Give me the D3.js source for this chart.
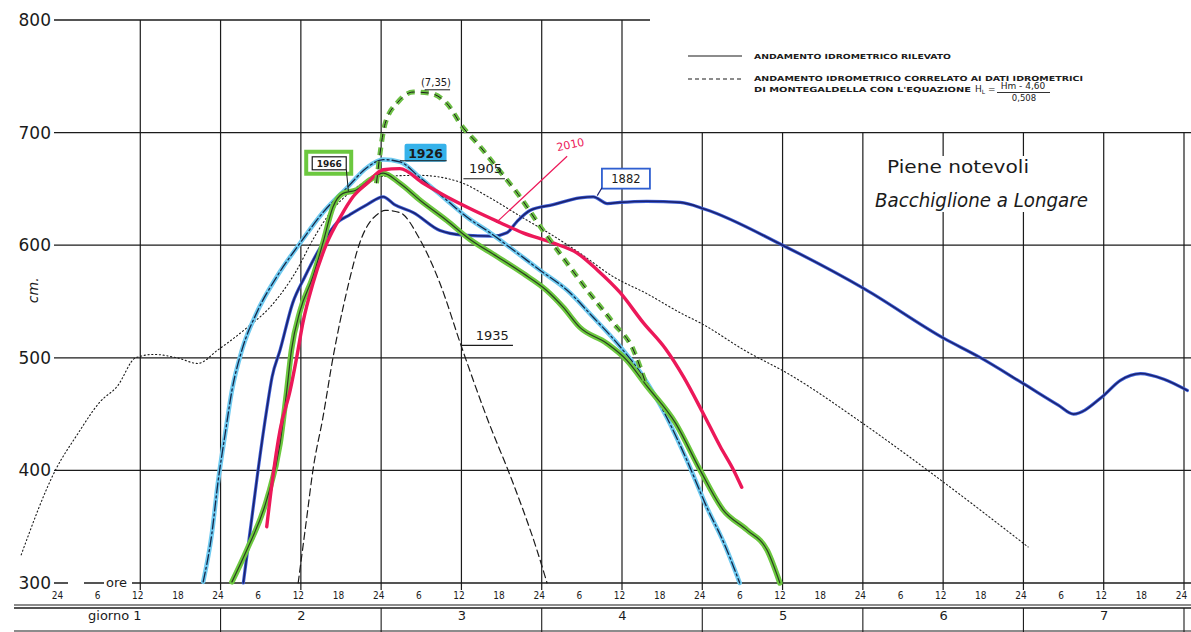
<!DOCTYPE html>
<html>
<head>
<meta charset="utf-8">
<script src="https://cdn.jsdelivr.net/npm/d3@7"></script>
<style>
body { margin: 0; background: #fff; }
svg { display: block; }
</style>
</head>
<body>
<div id="chart"></div>
<script>
// livelli in cm, tempo in ore dall'inizio del giorno 1
const yTicks = [800, 700, 600, 500, 400, 300];
const hourNames = ['24', '6', '12', '18'];
const dayNames = ['giorno 1', '2', '3', '4', '5', '6', '7'];

const s1905 = [[-5.8,325],[-0.7,400],[2.6,432],[6,461],[8.6,475],[11.3,500],[14,503],[17.5,500],[20.6,495],[23.6,507],[28,527],[31.4,545],[35.4,578],[37.8,605],[40.4,629],[43.8,649],[47.8,661],[53.8,662],[59.8,656],[64,643],[69,625],[73,611],[77.7,593],[82.7,572],[87.7,557],[92.7,540],[96,530],[102.5,506],[108.8,486],[119.7,443],[129.7,400],[144.7,332]];
const s1935 = [[35.6,300],[36.9,359],[37.8,400],[39.3,447],[40.8,500],[42.9,560],[44.8,602],[47.8,629],[48.6,631],[50.8,629],[53.8,605],[56.8,566],[60,510],[63.8,447],[67.7,389],[71.3,329],[72.8,300]];
const s735 = [[47.3,655],[48.6,708],[50.5,727],[52.8,736],[55.3,735],[57.8,726],[60.3,704],[62.3,691],[65.3,669],[68.5,645],[72.2,613],[75.8,584],[78.8,560],[82.7,531],[85.7,507],[87.5,478]];
const s1882 = [[27.4,300],[28.7,359],[29.6,400],[30.9,454],[31.7,483],[32.9,507],[34.8,549],[36.6,572],[38.9,598],[41.4,620],[43.3,627],[45.9,636],[48.3,643],[50,636],[52.8,629],[56.8,613],[60.2,609],[64.7,608],[66.8,611],[68.3,621],[70.3,631],[73.7,636],[77.7,642],[79.7,643],[81.8,637],[83.7,638],[87.7,639],[92.7,638],[96.4,632],[108,600],[120.3,561],[132.2,517],[137.3,501],[144,477],[149.2,458],[151.5,450],[155.7,465],[158.5,480],[161.5,486],[165,481],[168.5,471]];
const s1926 = [[21.4,301],[22.7,344],[23.6,389],[24.7,433],[25.7,471],[27.2,507],[29.4,540],[32.4,572],[35.9,602],[39.3,629],[42.9,651],[45.9,669],[48.3,676],[50.8,674],[53.8,660],[57.8,640],[60.8,625],[64.3,611],[67.7,596],[71.7,578],[75.8,560],[79.7,536],[83.7,510],[87.2,483],[90.7,447],[93.7,409],[96.7,367],[99.2,336],[101.6,300]];
const s1966 = [[25.7,301],[27.9,329],[30.9,374],[32.9,424],[33.9,471],[34.6,507],[35.9,542],[37.8,572],[39.3,602],[40.8,634],[42.3,646],[44.3,649],[46.3,658],[48.3,664],[50.8,655],[53.8,640],[57.8,622],[61.3,605],[65.3,590],[69.2,575],[72.7,560],[75.2,545],[77.7,527],[81.7,513],[84.7,498],[87.7,475],[92,442],[95.7,400],[99.1,365],[102.7,347],[105.7,329],[107.6,300]];
const s2010 = [[30.9,350],[31.7,389],[32.9,436],[34.4,471],[35.4,501],[36.3,531],[37.8,566],[39.9,602],[41.9,625],[43.8,643],[45.9,655],[48.3,667],[50.8,668],[54.3,655],[57.8,643],[61.8,631],[65.8,620],[69.2,611],[73.7,602],[77.3,593],[80.3,578],[83.7,558],[87.2,531],[90.5,508],[93.2,483],[96.1,451],[98.7,421],[100.7,400],[101.9,385]];

const width = 1191, height = 632;
const ink = '#1b1b1b';

const svg = d3.select('#chart').append('svg')
	.attr('width', width)
	.attr('height', height)
	.style('font-family', 'DejaVu Sans, sans-serif');

const x = d3.scaleLinear().domain([0, 168]).range([60, 1184]);
const y = d3.scaleLinear().domain([300, 800]).range([583, 20]);

// griglia
const gridG = svg.append('g').attr('stroke', ink).attr('stroke-width', 1.3);
gridG.selectAll('line.h')
	.data(yTicks)
	.enter().append('line')
	.attr('x1', 54)
	.attr('x2', d => d === 800 ? 650 : width)
	.attr('y1', d => y(d))
	.attr('y2', d => y(d));

const vTimes = d3.range(12, 169, 12);
gridG.selectAll('line.v')
	.data(vTimes)
	.enter().append('line')
	.attr('x1', d => x(d))
	.attr('x2', d => x(d))
	.attr('y1', d => d <= 84 ? y(800) : y(700))
	.attr('y2', y(300) + 7)
	.attr('stroke-width', 1.2);

// asse y
svg.append('g')
	.attr('transform', 'translate(54,0)')
	.call(d3.axisLeft(y).tickValues(yTicks).tickSize(0).tickPadding(3))
	.call(g => g.select('.domain').remove())
	.selectAll('text')
	.attr('font-size', 17)
	.attr('font-family', 'DejaVu Sans, sans-serif')
	.attr('fill', ink);

svg.append('text')
	.attr('transform', `translate(38,${ y(560) }) rotate(-90)`)
	.attr('text-anchor', 'middle')
	.attr('font-size', 14)
	.attr('font-style', 'italic')
	.attr('fill', ink)
	.text('cm.');

// "ore" sulla linea dei 300
svg.append('rect').attr('x', 68).attr('y', y(300) - 3).attr('width', 16).attr('height', 6).attr('fill', '#fff');
svg.append('rect').attr('x', 104).attr('y', y(300) - 8).attr('width', 28).attr('height', 12).attr('fill', '#fff');
svg.append('text')
	.attr('x', 106).attr('y', y(300) + 4)
	.attr('font-size', 13)
	.attr('fill', ink)
	.text('ore');

// assi dei tempi
const hourTicks = d3.range(0, 169, 6);
svg.append('g')
	.attr('transform', 'translate(-3,590)')
	.call(d3.axisBottom(x).tickValues(hourTicks).tickSize(0).tickPadding(2)
		.tickFormat(d => hourNames[(d / 6) % 4]))
	.call(g => g.select('.domain').remove())
	.selectAll('text')
	.attr('font-size', 10)
	.attr('font-family', 'DejaVu Sans Condensed, sans-serif')
	.attr('fill', ink);

const rowG = svg.append('g').attr('stroke', ink);
[605, 608, 631].forEach(v => {
	rowG.append('line').attr('x1', 14).attr('x2', width).attr('y1', v).attr('y2', v)
		.attr('stroke-width', v === 608 ? 1.6 : 1.1);
});
rowG.selectAll('line.d')
	.data(d3.range(24, 169, 24))
	.enter().append('line')
	.attr('x1', d => x(d)).attr('x2', d => x(d))
	.attr('y1', 608).attr('y2', 632)
	.attr('stroke-width', 1.1);

svg.append('g')
	.attr('transform', 'translate(0,611)')
	.call(d3.axisBottom(x).tickValues(d3.range(12, 169, 24)).tickSize(0).tickPadding(0)
		.tickFormat((d, i) => dayNames[i]))
	.call(g => g.select('.domain').remove())
	.selectAll('text')
	.attr('font-size', 13)
	.attr('font-family', 'DejaVu Sans, sans-serif')
	.attr('fill', ink)
	.attr('dx', (d, i) => i === 0 ? -26 : 0);

// curve
const line = d3.line()
	.x(d => x(d[0]))
	.y(d => y(d[1]))
	.curve(d3.curveMonotoneX);

const curves = svg.append('g').attr('fill', 'none').attr('stroke-linecap', 'round').attr('stroke-linejoin', 'round');

curves.append('path').datum(s1905).attr('d', line)
	.attr('stroke', ink).attr('stroke-width', 1.1).attr('stroke-dasharray', '1.2,2.6');
curves.append('path').datum(s1935).attr('d', line)
	.attr('stroke', ink).attr('stroke-width', 1.2).attr('stroke-dasharray', '7,4');

curves.append('path').datum(s1882).attr('d', line)
	.attr('stroke', '#3d5fd6').attr('stroke-width', 3.2);
curves.append('path').datum(s1882).attr('d', line)
	.attr('stroke', '#1c2370').attr('stroke-width', 1.6);

curves.append('path').datum(s1926).attr('d', line)
	.attr('stroke', '#6fcaf0').attr('stroke-width', 4.5);
curves.append('path').datum(s1926).attr('d', line)
	.attr('stroke', '#15284a').attr('stroke-width', 1.3).attr('stroke-dasharray', '10,3,2,3');

curves.append('path').datum(s1966).attr('d', line)
	.attr('stroke', '#6cc83f').attr('stroke-width', 5.5);
curves.append('path').datum(s1966).attr('d', line)
	.attr('stroke', '#2a4020').attr('stroke-width', 1.2);

curves.append('path').datum(s2010).attr('d', line)
	.attr('stroke', '#ec1859').attr('stroke-width', 3.4);

curves.append('path').datum(s735).attr('d', line)
	.attr('stroke', '#6cbf45').attr('stroke-width', 5).attr('stroke-linecap', 'butt').attr('stroke-dasharray', '8,6');
curves.append('path').datum(s735).attr('d', line)
	.attr('stroke', ink).attr('stroke-width', 1).attr('stroke-linecap', 'butt').attr('stroke-dasharray', '8,6');

// etichette delle piene
const lab = svg.append('g').attr('fill', ink);

// 1966
lab.append('rect').attr('x', x(36.8)).attr('y', y(683)).attr('width', 45).attr('height', 22)
	.attr('fill', 'none').attr('stroke', '#6cc83f').attr('stroke-width', 4);
lab.append('rect').attr('x', x(37.7)).attr('y', y(678.5)).attr('width', 34).attr('height', 13)
	.attr('fill', '#fff').attr('stroke', ink).attr('stroke-width', 1.2);
lab.append('text').attr('x', x(37.7) + 17).attr('y', y(678.5) + 10)
	.attr('text-anchor', 'middle').attr('font-size', 9).attr('font-weight', 'bold').text('1966');
lab.append('line').attr('x1', x(42.8)).attr('y1', y(667)).attr('x2', x(43.1)).attr('y2', y(648))
	.attr('stroke', ink).attr('stroke-width', 1);

// 1926
lab.append('rect').attr('x', x(51.5)).attr('y', y(690)).attr('width', 42).attr('height', 18)
	.attr('fill', '#36b2ea').attr('rx', 2);
lab.append('text').attr('x', x(51.5) + 21).attr('y', y(690) + 14)
	.attr('text-anchor', 'middle').attr('font-size', 12.5).attr('font-weight', 'bold').text('1926');
lab.append('line').attr('x1', x(50.8)).attr('y1', y(675)).attr('x2', x(57.8)).attr('y2', y(675))
	.attr('stroke', ink).attr('stroke-width', 1.2);

// 1905
lab.append('text').attr('x', x(63.6)).attr('y', y(664))
	.attr('text-anchor', 'middle').attr('font-size', 13).text('1905');
lab.append('line').attr('x1', x(60.3)).attr('y1', y(659)).attr('x2', x(66.5)).attr('y2', y(659))
	.attr('stroke', ink).attr('stroke-width', 1.2);

// (7,35)
lab.append('text').attr('x', x(56.2)).attr('y', y(741))
	.attr('text-anchor', 'middle').attr('font-size', 10).text('(7,35)');
lab.append('line').attr('x1', x(54.5)).attr('y1', y(738)).attr('x2', x(58.3)).attr('y2', y(738))
	.attr('stroke', ink).attr('stroke-width', 1);

// 2010
lab.append('text').attr('transform', `translate(${ x(76.4) },${ y(686) }) rotate(-12)`)
	.attr('text-anchor', 'middle').attr('font-size', 11).attr('fill', '#ec1859').text('2010');
lab.append('line').attr('x1', x(75.8)).attr('y1', y(679)).attr('x2', x(65.2)).attr('y2', y(620))
	.attr('stroke', '#ec1859').attr('stroke-width', 1.2);

// 1935
lab.append('text').attr('x', x(64.6)).attr('y', y(516))
	.attr('text-anchor', 'middle').attr('font-size', 13).text('1935');
lab.append('line').attr('x1', x(60)).attr('y1', y(511)).attr('x2', x(67.7)).attr('y2', y(511))
	.attr('stroke', ink).attr('stroke-width', 1.2);

// 1882
lab.append('rect').attr('x', x(81)).attr('y', y(668)).attr('width', 48).attr('height', 20)
	.attr('fill', '#fff').attr('stroke', '#2f5fd0').attr('stroke-width', 1.8);
lab.append('text').attr('x', x(81) + 24).attr('y', y(668) + 14.5)
	.attr('text-anchor', 'middle').attr('font-size', 11.5).text('1882');
lab.append('line').attr('x1', x(81)).attr('y1', y(651)).attr('x2', x(80.3)).attr('y2', y(644))
	.attr('stroke', '#1c2370').attr('stroke-width', 1.2);

// titolo
svg.append('rect').attr('x', 880).attr('y', 156).attr('width', 215).attr('height', 56).attr('fill', '#fff');
svg.append('text').attr('x', 887).attr('y', 173)
	.attr('font-size', 18).attr('fill', ink)
	.attr('textLength', 142).attr('lengthAdjust', 'spacingAndGlyphs')
	.text('Piene  notevoli');
svg.append('text').attr('x', 875).attr('y', 207)
	.attr('font-size', 19).attr('font-style', 'italic').attr('fill', ink)
	.attr('textLength', 213).attr('lengthAdjust', 'spacingAndGlyphs')
	.text('Bacchiglione a Longare');

// legenda
const leg = svg.append('g').attr('fill', ink).attr('font-size', 7).attr('font-weight', 'bold');
leg.append('line').attr('x1', 688).attr('x2', 742).attr('y1', 56).attr('y2', 56)
	.attr('stroke', ink).attr('stroke-width', 1.1);
leg.append('line').attr('x1', 688).attr('x2', 742).attr('y1', 79).attr('y2', 79)
	.attr('stroke', ink).attr('stroke-width', 1.1).attr('stroke-dasharray', '4,3');
leg.append('text').attr('x', 754).attr('y', 58.5)
	.attr('textLength', 197).attr('lengthAdjust', 'spacingAndGlyphs')
	.text('ANDAMENTO IDROMETRICO RILEVATO');
leg.append('text').attr('x', 754).attr('y', 81)
	.attr('textLength', 329).attr('lengthAdjust', 'spacingAndGlyphs')
	.text('ANDAMENTO IDROMETRICO  CORRELATO AI DATI IDROMETRICI');
leg.append('text').attr('x', 754).attr('y', 92)
	.attr('textLength', 217).attr('lengthAdjust', 'spacingAndGlyphs')
	.text("DI MONTEGALDELLA CON L'EQUAZIONE");
const eq = leg.append('text').attr('x', 975).attr('y', 92).attr('font-weight', 'normal').attr('font-size', 9);
eq.append('tspan').text('H');
eq.append('tspan').attr('font-size', 6).attr('dy', 2).text('L');
eq.append('tspan').attr('dy', -2).text(' =');
leg.append('text').attr('x', 1023).attr('y', 89).attr('text-anchor', 'middle')
	.attr('font-weight', 'normal').attr('font-size', 9).text('Hm  - 4,60');
leg.append('line').attr('x1', 997).attr('x2', 1050).attr('y1', 92.5).attr('y2', 92.5)
	.attr('stroke', ink).attr('stroke-width', 0.9);
leg.append('text').attr('x', 1024).attr('y', 101).attr('text-anchor', 'middle')
	.attr('font-weight', 'normal').attr('font-size', 8.5).text('0,508');
</script>
</body>
</html>
